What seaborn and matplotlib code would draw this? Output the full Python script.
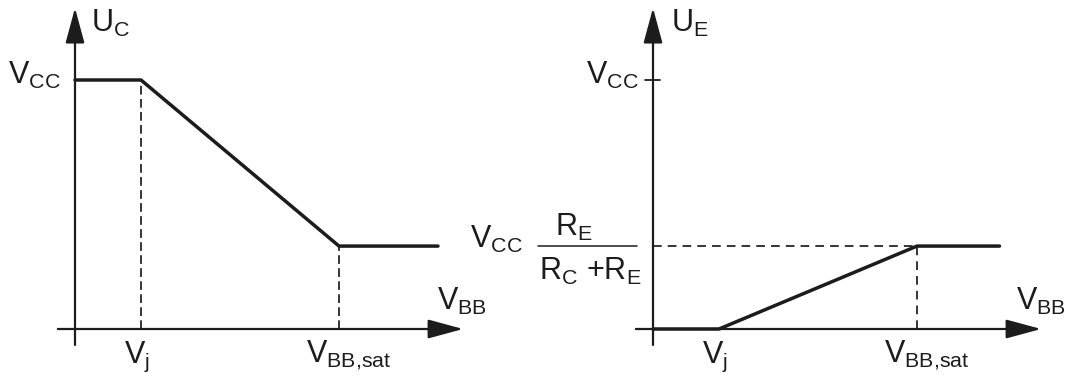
import matplotlib
matplotlib.use("Agg")
import matplotlib.pyplot as plt
import seaborn as sns

# Transfer characteristics of an emitter-degenerated transistor stage
# Base drive (in units of V_j) and normalised output voltages (in units of V_CC)
v_j = 1.0
v_bb_sat = 4.0
v_cc = 1.0
v_sat_level = 0.333

vbb_collector = [0.0, v_j, v_bb_sat, 5.5]
u_collector = [v_cc, v_cc, v_sat_level, v_sat_level]

vbb_emitter = [0.0, v_j, v_bb_sat, 5.25]
u_emitter = [0.0, 0.0, v_sat_level, v_sat_level]

sns.set_style("white")
plt.rcParams["font.family"] = ["Liberation Sans", "DejaVu Sans"]
plt.rcParams["mathtext.fontset"] = "custom"
plt.rcParams["mathtext.rm"] = "Liberation Sans"
plt.rcParams["mathtext.it"] = "Liberation Sans:italic"
plt.rcParams["mathtext.bf"] = "Liberation Sans:bold"

INK = "#1c1c1c"
FS = 22
CURVE_LW = 2.5
AXIS_LW = 1.6
DASH_LW = 1.25

fig = plt.figure(figsize=(10.66, 3.76), dpi=100)
ax_c = fig.add_axes([0.0, 0.0, 0.5, 1.0])
ax_e = fig.add_axes([0.5, 0.0, 0.5, 1.0])

# 66 px per V_j unit horizontally, 249 px per V_CC vertically
ax_c.set_xlim(-75 / 66, 458 / 66)
ax_e.set_xlim(-120 / 66, 413 / 66)
for ax in (ax_c, ax_e):
    ax.set_ylim(-47 / 249, 329 / 249)
    ax.set_axis_off()


def draw_axes(ax):
    arrow = dict(arrowstyle="-|>,head_length=1.55,head_width=0.42",
                 mutation_scale=14, lw=AXIS_LW, color=INK,
                 shrinkA=0, shrinkB=0)
    ax.annotate("", xy=(5.88, 0), xytext=(-0.26, 0), arrowprops=arrow)
    ax.annotate("", xy=(0, 1.289), xytext=(0, -0.064), arrowprops=arrow)


def label(ax, x, y, s, **kw):
    ax.text(x, y, s, fontsize=FS, color=INK, va="baseline", **kw)


dash_c = (0, (5, 2.5))
dash_e = (0, (5, 3.5))

# Collector voltage
draw_axes(ax_c)
ax_c.plot([v_j, v_j], [0, v_cc], color=INK, lw=DASH_LW, linestyle=dash_c, zorder=1)
ax_c.plot([v_bb_sat, v_bb_sat], [0, v_sat_level], color=INK, lw=DASH_LW,
          linestyle=dash_c, zorder=1)
sns.lineplot(x=vbb_collector, y=u_collector, ax=ax_c, color=INK, lw=CURVE_LW,
             estimator=None, sort=False, zorder=3)
ax_c.set_axis_off()

label(ax_c, 0.24, 1.193, r"$\mathrm{U_C}$")
label(ax_c, -0.22, 0.985, r"$\mathrm{V_{CC}}$", ha="right")
label(ax_c, 5.48, 0.076, r"$\mathrm{V_{BB}}$")
label(ax_c, v_j - 0.26, -0.135, r"$\mathrm{V_j}$")
label(ax_c, v_bb_sat - 0.5, -0.135, r"$\mathrm{V}_{\text{BB,sat}}$")

# Emitter voltage
draw_axes(ax_e)
ax_e.plot([-0.12, 0.11], [v_cc, v_cc], color=INK, lw=AXIS_LW - 0.3)
ax_e.plot([0, v_bb_sat], [v_sat_level, v_sat_level], color=INK, lw=DASH_LW,
          linestyle=dash_e, zorder=1)
ax_e.plot([v_bb_sat, v_bb_sat], [0, v_sat_level], color=INK, lw=DASH_LW,
          linestyle=dash_e, zorder=1)
sns.lineplot(x=vbb_emitter, y=u_emitter, ax=ax_e, color=INK, lw=CURVE_LW,
             estimator=None, sort=False, zorder=3)
ax_e.set_axis_off()

label(ax_e, 0.28, 1.193, r"$\mathrm{U_E}$")
label(ax_e, -0.22, 0.985, r"$\mathrm{V_{CC}}$", ha="right")
label(ax_e, 5.5, 0.076, r"$\mathrm{V_{BB}}$")
label(ax_e, v_j - 0.26, -0.135, r"$\mathrm{V_j}$")
label(ax_e, v_bb_sat - 0.5, -0.135, r"$\mathrm{V}_{\text{BB,sat}}$")

# Saturation level label: V_CC * R_E / (R_C + R_E)
label(ax_e, -1.97, 0.325, r"$\mathrm{V_{CC}}$", ha="right")
ax_e.plot([-1.74, -0.25], [v_sat_level, v_sat_level], color=INK, lw=1.1)
label(ax_e, -1.48, 0.373, r"$\mathrm{R_E}$", ha="left")
label(ax_e, -1.72, 0.197, r"$\mathrm{R_C}\ {+}\mathrm{R_E}$", ha="left")

fig.savefig("out.png", dpi=100)
